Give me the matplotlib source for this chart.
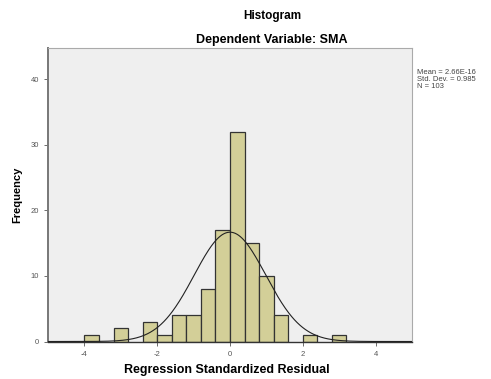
import numpy as np
import matplotlib.pyplot as plt

plt.rcParams["font.family"] = ["Liberation Sans", "DejaVu Sans"]
plt.rcParams["axes.unicode_minus"] = False

# bin edges (left) and counts, bin width 0.4
bin_lefts = [-4.0, -3.2, -2.4, -2.0, -1.6, -1.2, -0.8, -0.4, 0.0, 0.4, 0.8, 1.2, 2.0, 2.8]
counts = [1, 2, 3, 1, 4, 4, 8, 17, 32, 15, 10, 4, 1, 1]
bin_width = 0.4

mean = 2.66e-16
std_dev = 0.985
n_obs = 103

x_ticks = [-4, -2, 0, 2, 4]
y_ticks = [0, 10, 20, 30, 40]

bar_color = "#d3cf98"
face_color = "#efefef"


def main():
    fig = plt.figure(figsize=(4.91, 3.79), dpi=100, facecolor="white")
    ax = fig.add_axes([48 / 491, 1 - 341.5 / 379, 364 / 491, 293.5 / 379])
    ax.set_facecolor(face_color)

    ax.bar(
        bin_lefts,
        counts,
        width=bin_width,
        align="edge",
        color=bar_color,
        edgecolor="#333333",
        linewidth=0.9,
        zorder=2,
    )

    xs = np.linspace(-5, 5, 400)
    curve = (
        n_obs * bin_width / (std_dev * np.sqrt(2 * np.pi))
        * np.exp(-0.5 * ((xs - mean) / std_dev) ** 2)
    )
    ax.plot(xs, curve, color="#222222", lw=0.8, zorder=3)

    ax.set_xlim(-5, 5)
    ax.set_ylim(0, 44.8)
    ax.set_xticks(x_ticks)
    ax.set_yticks(y_ticks)
    ax.tick_params(
        axis="both", direction="out", length=3, width=0.6,
        color="#555555", labelcolor="#555555", labelsize=5.5,
    )
    for side in ["top", "right"]:
        ax.spines[side].set_color("#aaaaaa")
        ax.spines[side].set_linewidth(0.8)
    ax.spines["left"].set_color("#777777")
    ax.spines["left"].set_linewidth(1.4)
    ax.spines["bottom"].set_color("#333333")
    ax.spines["bottom"].set_linewidth(1.0)

    ax.set_xlabel("Regression Standardized Residual", fontsize=9, fontweight="bold")
    ax.xaxis.set_label_coords(0.49, -0.075)
    ax.set_ylabel("Frequency", fontsize=8, fontweight="bold")
    ax.yaxis.set_label_coords(-0.07, 0.5)

    fig.text(272 / 491, 1 - 16 / 379, "Histogram", ha="center", va="center",
             fontsize=8.5, fontweight="bold")
    fig.text(272 / 491, 1 - 40 / 379, "Dependent Variable: SMA", ha="center", va="center",
             fontsize=9, fontweight="bold")

    fig.text(
        417 / 491, 1 - 69 / 379,
        "Mean = 2.66E-16\nStd. Dev. = 0.985\nN = 103",
        ha="left", va="top", fontsize=5.5, color="#444444", linespacing=1.0,
    )

    fig.savefig("out.png", dpi=100, facecolor="white")


if __name__ == "__main__":
    main()
